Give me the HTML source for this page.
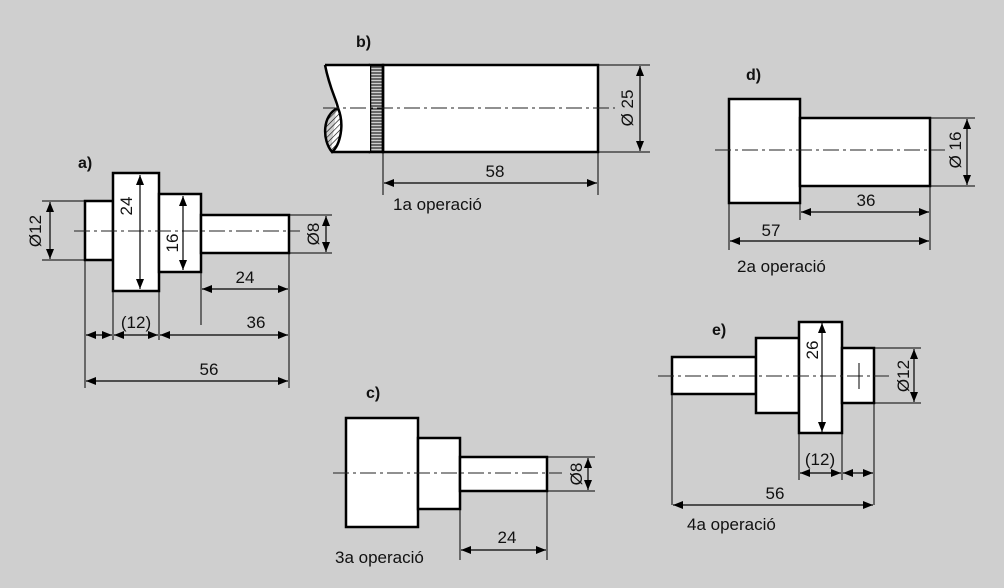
<!DOCTYPE html>
<html><head><meta charset="utf-8"><style>
html,body{margin:0;padding:0;background:#cfcfcf;}
svg{display:block;font-family:"Liberation Sans",sans-serif;}
text{font-size:17px;fill:#111;}
.b{font-weight:bold;font-size:16px;}
</style></head><body>
<svg width="1004" height="588" viewBox="0 0 1004 588" xmlns="http://www.w3.org/2000/svg">
<defs>
<marker id="ar" viewBox="0 0 10 8" refX="10" refY="4" markerWidth="10" markerHeight="8" markerUnits="userSpaceOnUse" orient="auto-start-reverse"><path d="M0,0 L10,4 L0,8 z" fill="#000"/></marker>
<pattern id="h" width="4" height="4" patternUnits="userSpaceOnUse" patternTransform="rotate(45)"><line x1="0" y1="0" x2="0" y2="4" stroke="#000" stroke-width="1.2"/></pattern>
<pattern id="hz" width="4" height="3" patternUnits="userSpaceOnUse"><line x1="0" y1="1" x2="4" y2="1" stroke="#000" stroke-width="1"/></pattern>
</defs>
<g fill="#fff" stroke="#000" stroke-width="2.5">
<rect x="85" y="201" width="28" height="59"/>
<rect x="113" y="173" width="46" height="118"/>
<rect x="159" y="194" width="42" height="78"/>
<rect x="201" y="215" width="88" height="38"/>
<rect x="383" y="65" width="215" height="87"/>
<rect x="370" y="65" width="13" height="87" fill="url(#hz)"/>
<path d="M325,65 L370,65 L370,152 L332,152 C330,130 345,115 325,65 Z" stroke="none"/>
<path d="M325,65 L370,65 M332,152 L370,152 M325,65 C330,90 336,98 338,108" fill="none"/>
<path d="M338,108 C345,125 340,145 332,152 C322,140 322,115 338,108 Z" fill="url(#h)"/>
<rect x="729" y="99" width="71" height="104"/>
<rect x="800" y="118" width="130" height="68"/>
<rect x="346" y="418" width="72" height="109"/>
<rect x="418" y="438" width="42" height="71"/>
<rect x="460" y="457" width="87" height="34"/>
<rect x="672" y="357" width="84" height="37"/>
<rect x="756" y="338" width="43" height="75"/>
<rect x="799" y="322" width="43" height="111"/>
<rect x="842" y="348" width="32" height="55"/>
</g>
<g stroke="#222" stroke-width="1" stroke-dasharray="16,4,3,4" fill="none">
<line x1="74" y1="231" x2="300" y2="231"/>
<line x1="323" y1="108" x2="615" y2="108"/>
<line x1="715" y1="150" x2="945" y2="150"/>
<line x1="333" y1="473" x2="562" y2="473"/>
<line x1="658" y1="376" x2="889" y2="376"/>
</g>
<line x1="859" y1="363" x2="859" y2="389" stroke="#000" stroke-width="1"/>
<g stroke="#000" stroke-width="1" fill="none">
<path d="M42,201H85 M42,260H85 M289,215H332 M289,253H332 M201,253V325 M85,260V388 M113,291V340 M159,291V340 M289,253V388"/>
<path d="M598,65H650 M598,152H650 M383,152V195 M598,152V195"/>
<path d="M930,118H975 M930,186H975 M800,186V220 M729,203V250 M930,186V250"/>
<path d="M547,457H595 M547,491H595 M460,509V560 M547,491V560"/>
<path d="M874,348H921 M874,403H921 M799,433V480 M842,433V480 M874,403V505 M672,394V505"/>
</g>
<g stroke="#000" stroke-width="1.2" fill="none" marker-start="url(#ar)" marker-end="url(#ar)">
<line x1="50" y1="202" x2="50" y2="259"/>
<line x1="140" y1="175" x2="140" y2="289"/>
<line x1="183" y1="196" x2="183" y2="270"/>
<line x1="326" y1="216" x2="326" y2="252"/>
<line x1="202" y1="289" x2="288" y2="289"/>
<line x1="86" y1="335" x2="112" y2="335"/>
<line x1="114" y1="335" x2="158" y2="335"/>
<line x1="160" y1="335" x2="288" y2="335"/>
<line x1="86" y1="381" x2="288" y2="381"/>
<line x1="640" y1="66" x2="640" y2="151"/>
<line x1="384" y1="183" x2="597" y2="183"/>
<line x1="967" y1="119" x2="967" y2="185"/>
<line x1="801" y1="212" x2="929" y2="212"/>
<line x1="730" y1="241" x2="929" y2="241"/>
<line x1="588" y1="458" x2="588" y2="490"/>
<line x1="461" y1="550" x2="546" y2="550"/>
<line x1="822" y1="323" x2="822" y2="432"/>
<line x1="914" y1="349" x2="914" y2="402"/>
<line x1="800" y1="473" x2="841" y2="473"/>
<line x1="843" y1="473" x2="873" y2="473"/>
<line x1="673" y1="505" x2="873" y2="505"/>
</g>
<text class="b" x="78" y="168">a)</text>
<text class="b" x="356" y="47">b)</text>
<text class="b" x="746" y="80">d)</text>
<text class="b" x="366" y="398">c)</text>
<text class="b" x="712" y="335">e)</text>
<g text-anchor="middle">
<text transform="translate(41,231) rotate(-90)">Ø12</text>
<text transform="translate(132,206) rotate(-90)">24</text>
<text transform="translate(178,243) rotate(-90)">16</text>
<text transform="translate(319,234) rotate(-90)">Ø8</text>
<text x="245" y="283">24</text>
<text x="136" y="328">(12)</text>
<text x="256" y="328">36</text>
<text x="209" y="375">56</text>
<text transform="translate(633,108) rotate(-90)">Ø 25</text>
<text x="495" y="177">58</text>
<text transform="translate(961,150) rotate(-90)">Ø 16</text>
<text x="866" y="206">36</text>
<text x="771" y="236">57</text>
<text transform="translate(582,474) rotate(-90)">Ø8</text>
<text x="507" y="543">24</text>
<text transform="translate(818,350) rotate(-90)">26</text>
<text transform="translate(909,376) rotate(-90)">Ø12</text>
<text x="820" y="465">(12)</text>
<text x="775" y="499">56</text>
</g>
<text x="393" y="210">1a operació</text>
<text x="737" y="272">2a operació</text>
<text x="335" y="563">3a operació</text>
<text x="687" y="530">4a operació</text>
</svg>
</body></html>
